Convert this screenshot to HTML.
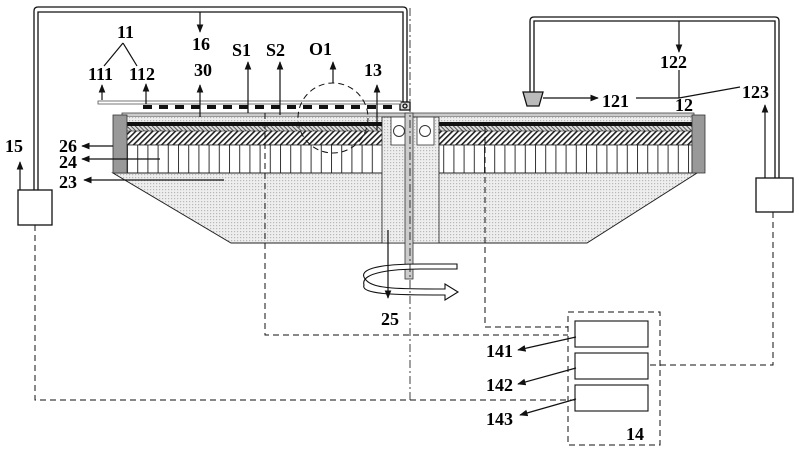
<!DOCTYPE html>
<html><head><meta charset="utf-8"><style>
html,body{margin:0;padding:0;background:#fff}
svg{display:block}
text{font-family:"Liberation Serif",serif;font-weight:bold;font-size:18px;fill:#000}
</style></head><body>
<svg width="799" height="453" viewBox="0 0 799 453" xmlns="http://www.w3.org/2000/svg">
<defs>
<pattern id="dots" width="3" height="3" patternUnits="userSpaceOnUse"><rect width="3" height="3" fill="#eeeeee"/><rect width="1.2" height="1.2" fill="#b8b8b8"/></pattern>
<pattern id="hatch" width="4" height="4" patternUnits="userSpaceOnUse" patternTransform="rotate(45)"><rect width="4" height="4" fill="#fff"/><rect width="1.6" height="4" fill="#222"/></pattern>
<pattern id="hatch2" width="3" height="3" patternUnits="userSpaceOnUse" patternTransform="rotate(-45)"><rect width="3" height="3" fill="#ddd"/><rect width="1" height="3" fill="#555"/></pattern>
<pattern id="cells" width="10.2" height="30" patternUnits="userSpaceOnUse" x="127"><rect width="10.2" height="30" fill="#fff"/><rect width="1" height="30" fill="#333"/></pattern>
<marker id="a" viewBox="0 0 10 10" refX="9" refY="5" markerWidth="7" markerHeight="7" orient="auto"><path d="M0,1 L10,5 L0,9 z" fill="#111"/></marker>
</defs>
<g fill="none" stroke="#111" stroke-width="1.3">
<path d="M34,190 V11 Q34,7 38,7 H403 Q407,7 407,11 V102"/>
<path d="M38,190 V12 H403 V102"/>
<rect x="18" y="190" width="34" height="35" fill="#fff"/>
<rect x="400" y="102" width="10" height="8" fill="#ddd"/>
<circle cx="405" cy="106" r="2"/>
<path d="M530,92 V21 Q530,17 534,17 H775 Q779,17 779,21 V178"/>
<path d="M534,92 V21 H775 V178"/>
<rect x="756" y="178" width="37" height="34" fill="#fff"/>
<path d="M523,92 H543 L539,106 H527 Z" fill="#bbb"/>
</g>
<rect x="98" y="101" width="303" height="3" fill="#fff" stroke="#555" stroke-width="0.8"/>
<g fill="#111">
<rect x="143" y="105" width="9" height="4"/><rect x="159" y="105" width="9" height="4"/><rect x="175" y="105" width="9" height="4"/><rect x="191" y="105" width="9" height="4"/><rect x="207" y="105" width="9" height="4"/><rect x="223" y="105" width="9" height="4"/><rect x="239" y="105" width="9" height="4"/><rect x="255" y="105" width="9" height="4"/><rect x="271" y="105" width="9" height="4"/><rect x="287" y="105" width="9" height="4"/><rect x="303" y="105" width="9" height="4"/><rect x="319" y="105" width="9" height="4"/><rect x="335" y="105" width="9" height="4"/><rect x="351" y="105" width="9" height="4"/><rect x="367" y="105" width="9" height="4"/><rect x="383" y="105" width="9" height="4"/>
</g>
<rect x="122" y="113" width="572" height="4" fill="#ccc" stroke="#444" stroke-width="0.8"/>
<rect x="127" y="117" width="565" height="5" fill="url(#dots)"/>
<rect x="127" y="122" width="565" height="4" fill="#111"/>
<rect x="127" y="126" width="565" height="5" fill="url(#hatch2)"/>
<rect x="127" y="131" width="565" height="14" fill="url(#hatch)" stroke="#222" stroke-width="0.6"/>
<rect x="127" y="145" width="565" height="28" fill="url(#cells)" stroke="#222" stroke-width="0.8"/>
<path d="M113,173 H697 L587,243 H231 Z" fill="url(#dots)" stroke="#222" stroke-width="1"/>
<rect x="113" y="115" width="14" height="58" fill="#999" stroke="#333" stroke-width="0.8"/>
<rect x="692" y="115" width="13" height="58" fill="#999" stroke="#333" stroke-width="0.8"/>
<rect x="382" y="117" width="57" height="126" fill="url(#dots)" stroke="#222" stroke-width="0.8"/>
<rect x="391" y="117" width="17" height="28" fill="#fff" stroke="#333" stroke-width="0.8"/>
<rect x="417" y="117" width="17" height="28" fill="#fff" stroke="#333" stroke-width="0.8"/>
<circle cx="399" cy="131" r="5.5" fill="#fff" stroke="#333"/>
<circle cx="425" cy="131" r="5.5" fill="#fff" stroke="#333"/>
<rect x="405" y="113" width="8" height="166" fill="#ccc" stroke="#333" stroke-width="0.8"/>
<path d="M457,264 H420 C375,264 355,270 367,281 C375,289 400,289 445,289 V284 L458,292 L445,300 V295 C400,295 360,295 364,285 C360,272 395,269 420,269 H457 Z" fill="#fff" stroke="#111" stroke-width="1.1"/>
<g fill="none" stroke="#111" stroke-width="1" stroke-dasharray="6,4">
<path d="M265,113 V335 H568"/>
<path d="M485,127 V327 H568"/>
<path d="M773,212 V365 H648"/>
<path d="M35,225 V400 H575"/>
<rect x="568" y="312" width="92" height="133"/>
<circle cx="333" cy="118" r="35"/>
</g>
<path d="M410,8 V400" stroke="#111" stroke-width="0.8" stroke-dasharray="8,3,2,3"/>
<g fill="#fff" stroke="#111" stroke-width="1.1">
<rect x="575" y="321" width="73" height="26"/>
<rect x="575" y="353" width="73" height="26"/>
<rect x="575" y="385" width="73" height="26"/>
</g>
<g stroke="#111" stroke-width="1.2" fill="none" marker-end="url(#a)">
<path d="M200,12 V32"/>
<path d="M102,100 V85"/>
<path d="M146,104 V84"/>
<path d="M200,117 V85"/>
<path d="M248,113 V62"/>
<path d="M280,115 V62"/>
<path d="M333,83 V62"/>
<path d="M377,130 V85"/>
<path d="M113,146 H82"/>
<path d="M160,159 H82"/>
<path d="M224,180 H84"/>
<path d="M20,190 V162"/>
<path d="M388,230 V298"/>
<path d="M679,21 V52"/>
<path d="M543,98 H598"/>
<path d="M765,178 V105"/>
<path d="M576,337 L518,350"/>
<path d="M576,368 L518,384"/>
<path d="M576,399 L520,415"/>
</g>
<g stroke="#111" stroke-width="1.2" fill="none">
<path d="M123,43 L104,66 M123,43 L137,66"/>
<path d="M636,98 H679 L740,87"/>
<path d="M679,70 V98"/>
</g>
<text x="117" y="38">11</text>
<text x="88" y="80">111</text>
<text x="129" y="80">112</text>
<text x="192" y="50">16</text>
<text x="194" y="76">30</text>
<text x="232" y="56">S1</text>
<text x="266" y="56">S2</text>
<text x="309" y="55">O1</text>
<text x="364" y="76">13</text>
<text x="660" y="68">122</text>
<text x="602" y="107">121</text>
<text x="675" y="111">12</text>
<text x="742" y="98">123</text>
<text x="5" y="152">15</text>
<text x="59" y="152">26</text>
<text x="59" y="168">24</text>
<text x="59" y="188">23</text>
<text x="381" y="325">25</text>
<text x="486" y="357">141</text>
<text x="486" y="391">142</text>
<text x="486" y="425">143</text>
<text x="626" y="440">14</text>
</svg>
</body></html>
